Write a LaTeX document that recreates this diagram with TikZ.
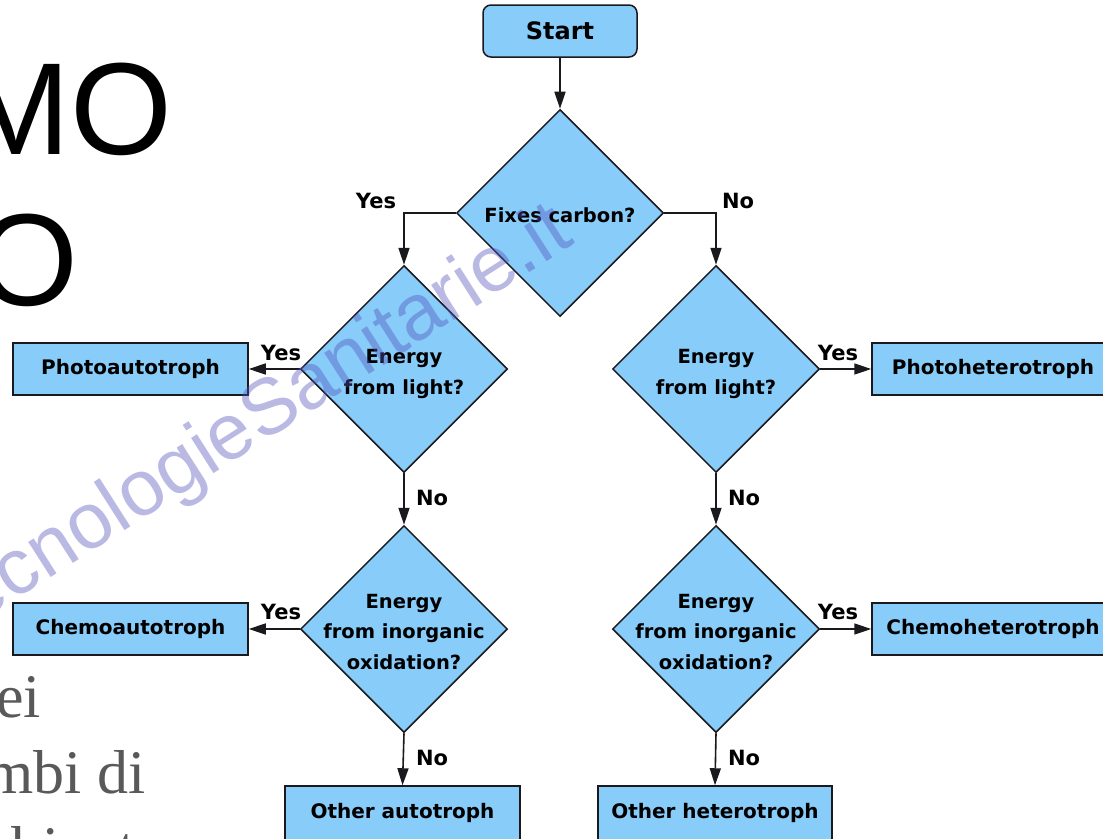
\documentclass[tikz,border=0pt]{standalone}
\usepackage{fontspec}
\setmainfont{DejaVu Sans}
\newfontfamily\sansbig{Liberation Sans}
\newfontfamily\serifbody{Liberation Serif}
\usetikzlibrary{shapes.geometric,arrows.meta}

\definecolor{boxfill}{RGB}{136,204,250}
\definecolor{linec}{RGB}{25,25,30}
\definecolor{bodygray}{RGB}{89,89,89}
\definecolor{wmcol}{RGB}{80,80,185}

\newcommand\flowtext{\fontsize{19.5}{30.5}\selectfont\bfseries}
\newcommand\boxtext{\fontsize{20}{24}\selectfont\bfseries}
\newcommand\flowstart{\fontsize{24}{28}\selectfont\bfseries}
\newcommand\flowlabel{\fontsize{21}{25}\selectfont\bfseries}

\tikzset{
  box/.style={draw=linec, fill=boxfill, line width=1.5pt, minimum height=52pt,
              inner sep=0pt, font=\boxtext},
  startbox/.style={box, rounded corners=8pt, font=\flowstart},
  decision/.style={diamond, aspect=1, draw=linec, fill=boxfill, line width=1.5pt,
                   minimum width=207pt, minimum height=207pt, inner sep=0pt},
  dtext/.style={align=center, font=\flowtext, inner sep=0pt},
  lbl/.style={font=\flowlabel, inner sep=0pt},
  flow/.style={draw=linec, line width=1.6pt, -{Triangle[length=17pt,width=11pt]}},
  slidehead/.style={font=\sansbig\fontsize{131}{153}\selectfont, inner sep=0pt, anchor=base east},
  slidebody/.style={font=\serifbody\fontsize{62}{76}\selectfont, text=bodygray, inner sep=0pt, anchor=base west},
  wmark/.style={font=\sansbig\fontsize{79}{84}\selectfont, text=wmcol, text opacity=0.40, inner sep=0pt}
}

\begin{document}
\begin{tikzpicture}[x=1pt,y=-1pt]
\useasboundingbox (0,0) rectangle (1103,838);
\clip (0,0) rectangle (1103,838);
\fill[white] (0,0) rectangle (1103,838);

% slide text behind the chart
\node[slidehead] (h1) at (173,154) {MO};
\node[slidehead] (h2) at (79,305) {O};
\node[slidebody] (b1) at (-4,717) {ei};
\node[slidebody] (b2) at (-15,793) {mbi di};
\node[slidebody] (b3) at (-64,869) {ambiente};

% start and first decision
\node[startbox, minimum width=154pt] (start) at (560,31) {Start};
\node[decision] (q1) at (560,213) {};
\node[dtext] (q1t) at (560,215) {Fixes carbon?};

% second row of decisions
\node[decision] (q2) at (404,369) {};
\node[dtext] (q2t) at (404,374) {Energy\\from light?};
\node[decision] (q3) at (716,369) {};
\node[dtext] (q3t) at (716,374) {Energy\\from light?};

% third row of decisions
\node[decision] (q4) at (404,629) {};
\node[dtext] (q4t) at (404,632) {Energy\\from inorganic\\oxidation?};
\node[decision] (q5) at (716,629) {};
\node[dtext] (q5t) at (716,632) {Energy\\from inorganic\\oxidation?};

% outcomes
\node[box, minimum width=235pt] (pa) at (130.5,369) {Photoautotroph};
\node[box, minimum width=242pt] (ph) at (993,369) {Photoheterotroph};
\node[box, minimum width=235pt] (ca) at (130.5,629) {Chemoautotroph};
\node[box, minimum width=242pt] (ch) at (993,629) {Chemoheterotroph};
\node[box, minimum width=235pt, minimum height=54pt] (oa) at (402.5,813) {Other autotroph};
\node[box, minimum width=234pt, minimum height=54pt] (oh) at (715,813) {Other heterotroph};

% connectors
\draw[flow] (start) -- (q1);
\draw[flow] (q1.west) -| (q2.north);
\draw[flow] (q1.east) -| (q3.north);
\draw[flow] (q2.west) -- (pa.east);
\draw[flow] (q3.east) -- (ph.west);
\draw[flow] (q2.south) -- (q4.north);
\draw[flow] (q3.south) -- (q5.north);
\draw[flow] (q4.west) -- (ca.east);
\draw[flow] (q5.east) -- (ch.west);
\draw[flow] (q4.south) -- (oa.north);
\draw[flow] (q5.south) -- (oh.north);

% branch labels
\node[lbl] (l1) at (376,201) {Yes};
\node[lbl] (l2) at (738,201) {No};
\node[lbl] (l3) at (281,353) {Yes};
\node[lbl] (l4) at (838,353) {Yes};
\node[lbl] (l5) at (432,498) {No};
\node[lbl] (l6) at (744,498) {No};
\node[lbl] (l7) at (281,612) {Yes};
\node[lbl] (l8) at (838,612) {Yes};
\node[lbl] (l9) at (432,758) {No};
\node[lbl] (l10) at (744,758) {No};

% watermark
\node[wmark, rotate=32.5, anchor=base east] (wm) at (576,243) {TecnologieSanitarie.it};
\end{tikzpicture}
\end{document}
